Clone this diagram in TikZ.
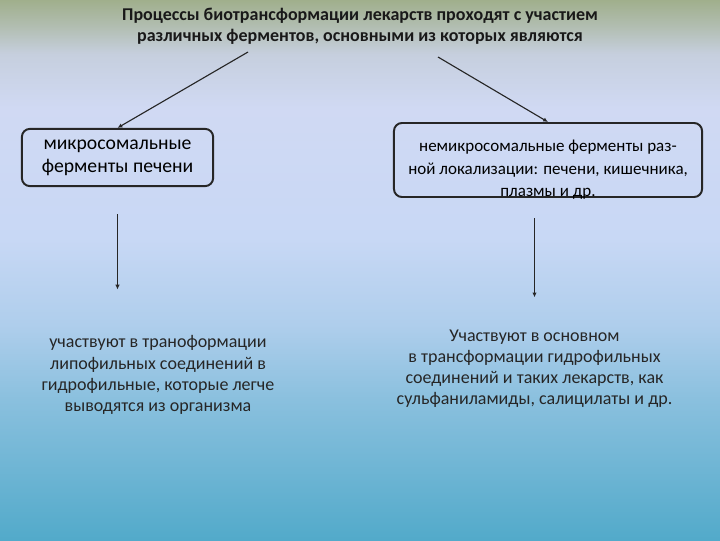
\documentclass[tikz,border=0pt]{standalone}
\usepackage{fontspec}
\setmainfont{Carlito}
\usetikzlibrary{arrows.meta,positioning}
\definecolor{bgtop}{RGB}{160,175,140}
\definecolor{bgfade}{RGB}{178,190,178}
\definecolor{bggrey}{RGB}{198,207,222}
\definecolor{bglav}{RGB}{208,217,243}
\definecolor{bgmid}{RGB}{200,216,245}
\definecolor{bgsky}{RGB}{175,206,236}
\definecolor{bgblue}{RGB}{138,192,222}
\definecolor{bgteal}{RGB}{82,170,202}
\pgfdeclareverticalshading{slidebg}{100bp}{color(0bp)=(bgteal); color(25bp)=(bgteal);
  color(38bp)=(bgblue); color(45bp)=(bgsky); color(53bp)=(bgmid); color(65bp)=(bglav);
  color(70bp)=(bggrey); color(72.5bp)=(bgfade); color(75bp)=(bgtop); color(100bp)=(bgtop)}

\begin{document}
\begin{tikzpicture}[x=0.025cm, y=-0.025cm,
    box/.style={rectangle, rounded corners=2mm, draw=black!85, line width=1.4pt,
                align=center, inner sep=0pt},
    note/.style={align=center, inner sep=0pt, font=\fontsize{12.8}{15}\selectfont, text=black!85},
    arr/.style={-{Latex[length=1.2mm, width=1.1mm]}, black!85, line width=0.8pt}]
\fill[shading=slidebg] (0,0) rectangle (720,540);
\useasboundingbox (0,0) rectangle (720,540);
\node[font=\fontsize{12.8}{15.2}\selectfont\bfseries, align=center, text=black!90] (top) at (360,26)
  {Процессы биотрансформации лекарств проходят с участием\\различных ферментов, основными из которых являются};
\node[box, minimum width=4.78cm, minimum height=1.43cm, font=\fontsize{14}{16.5}\selectfont] (mic) at (117.5,157.5)
  {микросомальные\\ферменты печени};
\node[box, minimum width=7.7cm, minimum height=1.85cm, text height=52pt, text depth=0pt,
      font=\fontsize{12.1}{16}\selectfont] (nmic) at (548,160)
  {немикросомальные ферменты раз-\\ной локализации: печени, кишечника,\\плазмы и др.};
\node[note] (lipo) at (158,375)
  {участвуют в траноформации\\липофильных соединений в\\гидрофильные, которые легче\\выводятся из организма};
\node[note] (hydro) at (534.5,368.5)
  {Участвуют в основном\\в трансформации гидрофильных\\соединений и таких лекарств, как\\сульфаниламиды, салицилаты и др.};
\coordinate (tl) at (248,52);
\coordinate (tr) at (438,57);
\draw[arr] (tl) -- (mic.north);
\draw[arr] (tr) -- (nmic.north);
\draw[arr, shorten <=6.75mm, shorten >=11.5mm] (mic.south) -- (mic.south |- lipo.north);
\draw[arr, shorten <=5mm, shorten >=8mm] (nmic.south -| hydro.north) -- (hydro.north);
\end{tikzpicture}
\end{document}
